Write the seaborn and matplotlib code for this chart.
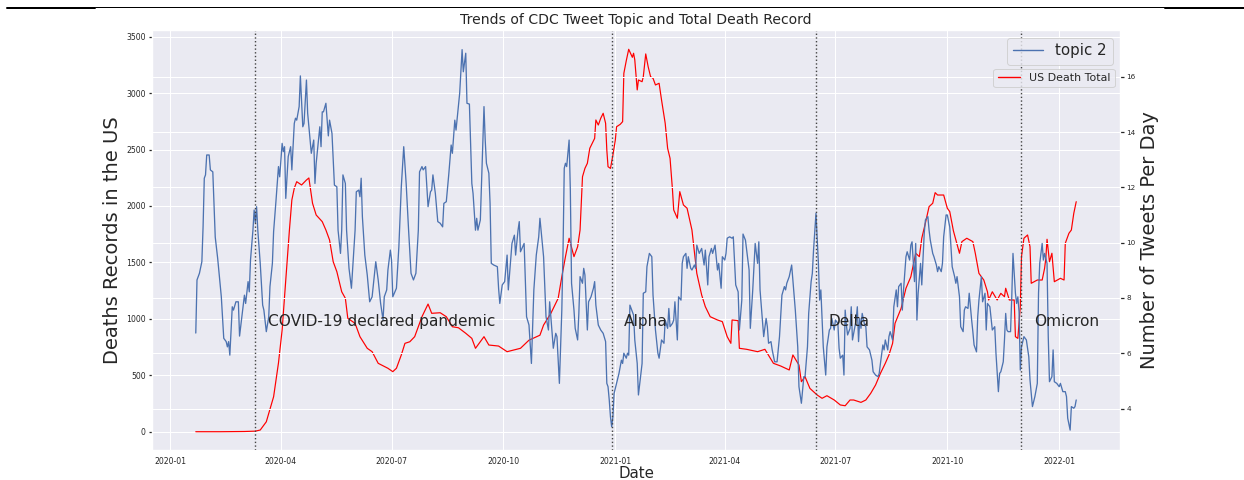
import matplotlib
matplotlib.use("Agg")
import matplotlib.pyplot as plt
import matplotlib.dates as mdates
from matplotlib.lines import Line2D
import seaborn as sns
import pandas as pd

# days counted from the first record (2020-01-22)
start = pd.Timestamp("2020-01-22")

death_days = [0, 20, 40, 49, 53, 58, 64, 68, 71, 73, 75, 77, 79, 81, 83, 87, 91, 93, 96, 99,
              104, 107, 110, 113, 116, 120, 123, 125, 131, 135, 141, 145, 150, 158, 162, 165,
              169, 172, 176, 180, 186, 191, 194, 201, 206, 211, 216, 222, 227, 230, 237, 241,
              249, 256, 267, 274, 283, 286, 292, 298, 301, 304, 307, 311, 314, 316, 318, 320,
              322, 324, 328, 329, 331, 333, 335, 337, 338, 339, 341, 343, 345, 346, 349, 351,
              352, 354, 356, 359, 360, 361, 363, 364, 367, 368, 370, 372, 374, 376, 378, 381,
              383, 386, 388, 390, 392, 393, 396, 398, 401, 404, 408, 412, 416, 419, 423, 429,
              433, 437, 440, 441, 446, 447, 453, 462, 468, 475, 481, 488, 491, 496, 498, 501,
              505, 511, 515, 519, 525, 530, 534, 538, 541, 547, 551, 555, 559, 563, 567, 570,
              573, 575, 580, 584, 588, 592, 595, 597, 600, 603, 606, 608, 610, 615, 618, 620,
              623, 628, 630, 634, 639, 641, 644, 648, 651, 652, 655, 659, 662, 665, 666, 669,
              673, 674, 676, 678, 679, 681, 684, 686, 687, 692, 696, 698, 699, 700, 702, 704,
              706, 711, 714, 715, 718, 720, 722, 724]
death_vals = [0, 0, 2, 5, 15, 88, 310, 609, 901, 1196, 1494, 1787, 2053, 2157, 2215, 2186, 2230,
              2248, 2024, 1920, 1861, 1787, 1699, 1506, 1418, 1240, 1182, 1005, 960, 842, 739,
              709, 606, 562, 532, 562, 680, 783, 797, 842, 1019, 1131, 1049, 1054, 1019, 930,
              921, 872, 827, 739, 842, 768, 759, 709, 739, 811, 855, 945, 1049, 1182, 1373,
              1551, 1714, 1551, 1639, 1787, 2259, 2333, 2378, 2511, 2599, 2762, 2717, 2777,
              2821, 2733, 2496, 2348, 2333, 2451, 2584, 2702, 2723, 2747, 3175, 3287, 3388,
              3317, 3353, 3294, 3028, 3116, 3101, 3145, 3347, 3234, 3145, 3131, 3072, 3087,
              2939, 2733, 2511, 2422, 2142, 1965, 1891, 2127, 2009, 1980, 1787, 1403, 1211,
              1108, 1019, 990, 975, 842, 783, 990, 984, 739, 730, 709, 730, 606, 582, 547, 680,
              591, 443, 487, 384, 325, 296, 319, 281, 237, 230, 281, 281, 260, 281, 340, 414,
              517, 606, 680, 783, 960, 1093, 1271, 1373, 1581, 1551, 1714, 1850, 1994, 2024,
              2118, 2097, 2097, 1980, 1950, 1780, 1581, 1684, 1714, 1684, 1581, 1403, 1344,
              1240, 1167, 1240, 1167, 1226, 1196, 1271, 1167, 1167, 842, 827, 1108, 1551, 1714,
              1743, 1639, 1315, 1344, 1344, 1448, 1536, 1705, 1506, 1581, 1329, 1359, 1344,
              1669, 1758, 1787, 1935, 2038]

topic_days = [0, 1, 3, 5, 6, 7, 8, 9, 11, 12, 14, 16, 18, 21, 23, 25, 26, 27, 28, 30, 31, 33,
              35, 36, 40, 41, 43, 44, 45, 47, 48, 49, 50, 51, 53, 55, 56, 58, 60, 61, 63, 64,
              66, 68, 69, 71, 72, 73, 74, 76, 78, 79, 81, 82, 83, 85, 86, 88, 89, 91, 92, 94,
              95, 97, 98, 99, 102, 103, 104, 105, 107, 109, 110, 112, 114, 116, 117, 119, 120,
              121, 123, 124, 126, 128, 130, 131, 132, 134, 135, 136, 137, 139, 141, 143, 145,
              147, 148, 150, 152, 154, 155, 157, 158, 160, 161, 162, 165, 167, 169, 171, 173,
              175, 177, 179, 181, 183, 184, 186, 187, 189, 191, 193, 194, 195, 197, 199, 201,
              203, 204, 206, 208, 210, 211, 213, 214, 216, 217, 219, 220, 222, 223, 225, 227,
              228, 230, 231, 232, 234, 237, 238, 239, 241, 242, 243, 245, 248, 249, 250, 252,
              254, 256, 257, 260, 262, 263, 265, 266, 267, 270, 272, 274, 276, 278, 280, 282,
              283, 286, 288, 290, 291, 294, 296, 297, 299, 301, 302, 303, 304, 305, 307, 308,
              309, 311, 312, 314, 315, 316, 318, 319, 320, 322, 323, 325, 327, 328, 329, 331,
              333, 335, 337, 338, 339, 340, 341, 342, 343, 344, 346, 348, 350, 351, 352, 354,
              355, 356, 357, 359, 360, 361, 363, 364, 366, 367, 368, 370, 371, 373, 375, 376,
              378, 380, 381, 383, 385, 386, 388, 389, 390, 392, 393, 394, 396, 397, 399, 400,
              401, 403, 404, 405, 407, 408, 410, 411, 412, 414, 416, 418, 419, 421, 422, 424,
              425, 427, 429, 430, 432, 433, 435, 436, 437, 439, 441, 442, 444, 446, 447, 449,
              450, 452, 455, 456, 458, 460, 462, 463, 464, 467, 469, 470, 471, 473, 474, 476,
              478, 480, 482, 484, 485, 486, 488, 490, 491, 493, 495, 496, 498, 500, 501, 503,
              504, 506, 507, 508, 510, 512, 513, 514, 516, 518, 519, 521, 522, 523, 525, 526,
              528, 529, 530, 532, 533, 534, 535, 536, 538, 539, 540, 541, 543, 544, 545, 546,
              547, 548, 550, 551, 552, 554, 556, 557, 559, 561, 562, 563, 565, 566, 567, 569,
              570, 571, 573, 574, 576, 577, 578, 580, 581, 582, 584, 585, 587, 588, 589, 591,
              592, 593, 594, 596, 597, 599, 600, 602, 603, 604, 606, 607, 609, 610, 611, 613,
              614, 615, 617, 618, 620, 622, 624, 625, 626, 628, 629, 631, 632, 633, 635, 636,
              638, 639, 640, 642, 643, 644, 646, 647, 649, 650, 651, 653, 654, 655, 657, 658,
              660, 661, 662, 664, 665, 666, 667, 668, 670, 671, 672, 673, 674, 675, 676, 677,
              678, 679, 681, 683, 685, 686, 688, 690, 692, 693, 694, 696, 697, 698, 700, 701,
              702, 704, 705, 706, 708, 710, 711, 713, 715, 716, 717, 719, 720, 722, 723, 724]
topic_vals = [6.73, 8.65, 8.89, 9.31, 10.57, 12.33, 12.45, 13.17, 13.17, 12.63, 12.56, 10.2,
              9.43, 8.04, 6.54, 6.42, 6.23, 6.42, 5.93, 7.68, 7.56, 7.86, 7.86, 6.62, 8.10,
              7.80, 8.59, 8.22, 9.37, 10.45, 11.18, 10.72, 11.30, 10.45, 9.25, 7.74, 7.56,
              6.78, 7.32, 8.41, 9.25, 10.4, 11.54, 12.75, 12.38, 13.59, 13.29, 13.47, 11.60,
              13.11, 13.47, 12.63, 14.31, 14.50, 14.43, 14.92, 16.03, 14.19, 14.31, 15.88,
              14.68, 13.71, 13.23, 13.71, 12.14, 12.87, 14.19, 13.47, 14.73, 14.73, 15.04,
              13.86, 14.43, 13.95, 12.08, 12.02, 10.45, 9.61, 10.45, 12.45, 12.14, 10.45, 9.07,
              8.35, 9.73, 10.45, 11.84, 11.90, 11.66, 12.33, 10.94, 9.55, 8.83, 7.86, 8.04,
              8.89, 9.31, 8.65, 7.80, 7.20, 8.04, 8.29, 9.01, 9.73, 9.37, 8.04, 8.35, 9.85,
              12.02, 13.47, 12.14, 10.45, 8.89, 8.65, 8.89, 10.45, 12.56, 12.75, 12.63, 12.75,
              11.30, 11.84, 11.90, 12.45, 11.78, 10.76, 10.70, 10.57, 11.42, 11.48, 12.45,
              13.53, 13.23, 14.43, 14.07, 14.98, 15.40, 16.98, 16.18, 16.85, 15.04, 15.01,
              12.14, 11.78, 10.45, 10.88, 10.45, 10.82, 14.92, 13.71, 12.87, 12.51, 11.42,
              9.25, 9.19, 9.13, 8.35, 7.80, 8.47, 8.59, 9.55, 8.29, 9.97, 10.27, 9.55, 10.45,
              10.76, 9.67, 9.97, 7.32, 7.02, 5.63, 8.29, 9.55, 10.21, 10.88, 9.49, 7.32, 6.84,
              7.86, 6.18, 6.72, 6.60, 4.91, 7.56, 9.73, 12.69, 12.87, 12.75, 13.71, 11.90,
              8.53, 7.56, 6.90, 6.48, 7.44, 8.77, 8.53, 9.07, 8.83, 6.84, 7.86, 8.04, 8.35,
              8.59, 7.74, 7.02, 6.84, 6.72, 6.42, 4.91, 4.79, 4.31, 3.70, 3.34, 3.70, 4.55,
              4.91, 5.27, 5.75, 5.63, 6.00, 5.82, 6.00, 5.93, 7.74, 7.50, 7.38, 6.48, 5.63,
              4.49, 5.27, 5.63, 8.17, 8.22, 9.13, 9.61, 9.49, 8.10, 6.84, 6.00, 5.82, 6.48,
              6.36, 7.20, 6.90, 7.62, 6.96, 7.08, 7.20, 7.86, 6.48, 8.04, 7.92, 9.25, 9.49,
              9.61, 9.07, 9.49, 9.07, 9.01, 9.19, 9.07, 9.91, 9.61, 9.79, 9.19, 9.73, 8.47,
              9.49, 9.79, 9.61, 9.91, 9.01, 9.25, 8.35, 9.49, 9.37, 9.61, 10.16, 10.21, 10.16,
              10.21, 8.47, 8.22, 6.84, 7.92, 10.31, 10.09, 9.01, 6.90, 8.29, 9.97, 9.25, 10.03,
              8.29, 6.60, 7.26, 6.96, 6.36, 6.42, 6.12, 5.69, 5.69, 6.60, 8.10, 8.41, 8.29,
              8.53, 8.77, 9.19, 8.65, 7.56, 6.23, 4.79, 4.19, 5.15, 5.15, 6.23, 7.44, 8.59,
              8.89, 9.73, 11.06, 9.25, 7.92, 8.29, 6.23, 5.21, 6.23, 6.84, 6.90, 7.26, 6.84,
              7.20, 7.08, 6.18, 5.82, 5.93, 5.21, 7.56, 7.02, 6.66, 6.90, 7.68, 6.48, 6.72,
              7.20, 7.68, 6.42, 7.26, 6.90, 7.44, 7.02, 6.96, 6.23, 6.12, 5.75, 5.33, 5.21,
              5.15, 5.27, 5.63, 6.30, 6.12, 6.48, 6.12, 6.60, 6.78, 6.48, 7.68, 8.29, 7.68,
              8.41, 8.53, 7.56, 8.29, 9.49, 9.67, 9.37, 9.91, 10.03, 8.59, 9.97, 7.20, 8.17,
              9.25, 8.47, 10.33, 10.82, 10.94, 10.45, 10.09, 9.61, 9.49, 9.19, 8.95, 9.13,
              8.95, 9.25, 10.21, 11.00, 11.00, 10.57, 9.13, 8.77, 8.53, 8.77, 8.04, 6.96, 6.78,
              7.56, 7.68, 7.62, 8.17, 7.20, 6.78, 6.30, 6.05, 7.32, 7.92, 8.77, 7.86, 8.17,
              6.84, 7.80, 7.68, 7.26, 6.84, 6.96, 6.00, 4.61, 5.27, 5.33, 5.69, 6.48, 7.44,
              6.84, 6.78, 6.78, 8.04, 9.61, 8.89, 8.17, 7.80, 8.04, 7.50, 5.39, 6.23, 6.60,
              6.48, 5.87, 5.03, 4.07, 4.43, 4.91, 8.17, 9.25, 9.97, 9.37, 9.61, 9.25, 6.60,
              4.97, 5.15, 6.12, 4.97, 4.91, 4.79, 4.91, 4.61, 4.61, 4.43, 3.65, 3.22, 4.07,
              4.01, 4.07, 4.31]

events = ["2020-03-11", "2020-12-29", "2021-06-15", "2021-12-01"]
event_labels = ["COVID-19 declared pandemic", "Alpha", "Delta", "Omicron"]

deaths = pd.DataFrame({"Date": start + pd.to_timedelta(death_days, unit="D"),
                       "US Death Total": death_vals})
topic = pd.DataFrame({"Date": start + pd.to_timedelta(topic_days, unit="D"),
                      "topic 2": topic_vals})

sns.set_theme(style="darkgrid")
plt.rcParams["font.family"] = ["DejaVu Sans"]

fig = plt.figure(figsize=(1244 / 72, 480 / 72), dpi=72)
ax = fig.add_axes([152 / 1244, 30 / 480, 968 / 1244, 420 / 480])
ax2 = ax.twinx()

sns.lineplot(data=deaths, x="Date", y="US Death Total", ax=ax, color="red",
             linewidth=1.2, estimator=None, legend=False)
sns.lineplot(data=topic, x="Date", y="topic 2", ax=ax2, color="#4c72b0",
             linewidth=1.3, estimator=None, legend=False)

for d, lab in zip(events, event_labels):
    d = pd.Timestamp(d)
    ax2.axvline(d, color="#444444", linestyle=":", linewidth=1.4)
    ax2.text(d + pd.Timedelta(days=10), 7, lab, fontsize=15.4, color="0.15")

ax.set_xlim(pd.Timestamp("2019-12-17"), pd.Timestamp("2022-02-20"))
ax.set_ylim(-162, 3559)
ax2.set_ylim(2.50, 17.69)
ax.set_yticks(range(0, 3501, 500))
ax2.set_yticks(range(4, 17, 2))
ax.xaxis.set_major_locator(mdates.MonthLocator(bymonth=[1, 4, 7, 10]))
ax.xaxis.set_major_formatter(mdates.DateFormatter("%Y-%m"))

ax.tick_params(axis="both", labelsize=7.7, colors="0.15", left=True, length=3.5, pad=3)
ax2.tick_params(axis="y", labelsize=7.2, colors="0.15", right=True, length=3.5, pad=3)
ax2.grid(True, color="white")

ax.set_title("Trends of CDC Tweet Topic and Total Death Record", fontsize=14, color="0.15")
ax.set_xlabel("Date", fontsize=15, color="0.15", labelpad=0)
ax.set_ylabel("Deaths Records in the US", fontsize=19.5, color="0.15")
ax2.set_ylabel("Number of Tweets Per Day", fontsize=19.5, color="0.15")

h_topic = Line2D([], [], color="#4c72b0", linewidth=1.4)
h_death = Line2D([], [], color="red", linewidth=1.4)
leg1 = ax2.legend([h_topic], ["topic 2"], loc="upper right", fontsize=15)
ax2.add_artist(leg1)
ax2.legend([h_death], ["US Death Total"], loc="upper right",
           bbox_to_anchor=(1, 0.921), fontsize=11)

# horizontal rules above the figure
fig.add_artist(Line2D([7 / 1244, 95 / 1244], [1 - 8 / 480] * 2, color="black", linewidth=2))
fig.add_artist(Line2D([95 / 1244, 1165 / 1244], [1 - 7 / 480] * 2, color="black", linewidth=1))
fig.add_artist(Line2D([1165 / 1244, 1244 / 1244], [1 - 8 / 480] * 2, color="black", linewidth=2))

fig.savefig("out.png", dpi=72)
